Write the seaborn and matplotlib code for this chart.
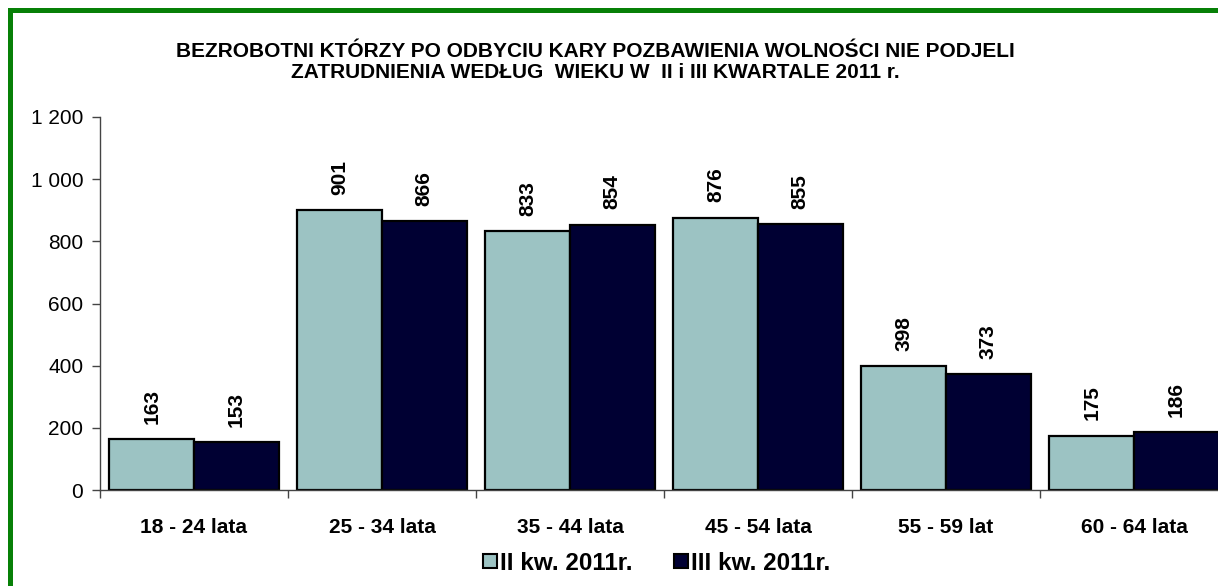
import matplotlib
matplotlib.use("Agg")
import matplotlib.pyplot as plt
import seaborn as sns
import pandas as pd
from matplotlib.ticker import FuncFormatter, FixedLocator
from matplotlib.lines import Line2D
from matplotlib.patches import Patch

categories = ["18 - 24 lata", "25 - 34 lata", "35 - 44 lata", "45 - 54 lata", "55 - 59 lat", "60 - 64 lata"]
series_names = ["II kw. 2011r.", "III kw. 2011r."]
q2_values = [163, 901, 833, 876, 398, 175]
q3_values = [153, 866, 854, 855, 373, 186]
colors = ["#9CC3C3", "#000033"]
title = ("BEZROBOTNI KTÓRZY PO ODBYCIU KARY POZBAWIENIA WOLNOŚCI NIE PODJELI\n"
         "ZATRUDNIENIA WEDŁUG  WIEKU W  II i III KWARTALE 2011 r.")

df = pd.DataFrame({
    "kat": categories * 2,
    "seria": [series_names[0]] * len(categories) + [series_names[1]] * len(categories),
    "val": q2_values + q3_values,
})

sns.set_theme(style="white")
plt.rcParams["font.family"] = ["Liberation Sans", "DejaVu Sans"]
plt.rcParams["text.color"] = "black"
plt.rcParams["xtick.color"] = "black"
plt.rcParams["ytick.color"] = "black"

fig = plt.figure(figsize=(12.18, 5.86), dpi=100)
W, H = 1218, 586
ax = fig.add_axes([100 / W, 1 - 490 / H, (1228 - 100) / W, (490 - 117) / H])

sns.barplot(data=df, x="kat", y="val", hue="seria", palette=colors, order=categories,
            hue_order=series_names, width=0.9, gap=0, edgecolor="black", linewidth=1.6,
            saturation=1, legend=False, ax=ax, errorbar=None)

for cont in ax.containers:
    ax.bar_label(cont, labels=[f"{int(v)}" for v in cont.datavalues], rotation=90,
                 padding=11, fontsize=15, fontweight="bold", color="black")

ax.set_xlim(-0.5, len(categories) - 0.5)
ax.set_ylim(0, 1200)
ax.set_yticks(range(0, 1201, 200))
ax.yaxis.set_major_formatter(FuncFormatter(lambda v, p: f"{int(v):,}".replace(",", " ")))
ax.tick_params(axis="y", which="major", direction="out", length=6, width=1, color="#444444",
               labelsize=15, pad=6, left=True, labelcolor="black")
ax.set_xticks(range(len(categories)))
ax.set_xticklabels(categories, fontsize=15, fontweight="bold", color="black")
ax.tick_params(axis="x", which="major", length=0, pad=20)
ax.xaxis.set_minor_locator(FixedLocator([i - 0.5 for i in range(len(categories) + 1)]))
ax.tick_params(axis="x", which="minor", direction="out", length=6, width=1, color="#444444", bottom=True)
ax.set_xlabel("")
ax.set_ylabel("")
for s in ["top", "right"]:
    ax.spines[s].set_visible(False)
for s in ["left", "bottom"]:
    ax.spines[s].set_color("#444444")
    ax.spines[s].set_linewidth(1)

fig.text(595 / W, 1 - 62 / H, title, ha="center", va="center", fontsize=15,
         fontweight="bold", linespacing=1.08, color="black")

handles = [Patch(facecolor=c, edgecolor="black", linewidth=1.5) for c in colors]
fig.legend(handles, series_names, loc="center", bbox_to_anchor=(657 / W, 1 - 563 / H),
           ncol=2, frameon=False, prop={"weight": "bold", "size": 17.5},
           handlelength=0.55, handleheight=0.55, handletextpad=0.15, columnspacing=1.7)

green = "#078007"
fig.add_artist(Line2D([9.5 / W, 9.5 / W], [0, 1 - 9.5 / H], color=green, linewidth=3.6,
                      transform=fig.transFigure, solid_capstyle="projecting"))
fig.add_artist(Line2D([9.5 / W, 1], [1 - 9.5 / H, 1 - 9.5 / H], color=green, linewidth=3.6,
                      transform=fig.transFigure, solid_capstyle="projecting"))

fig.savefig("out.png", dpi=100)
